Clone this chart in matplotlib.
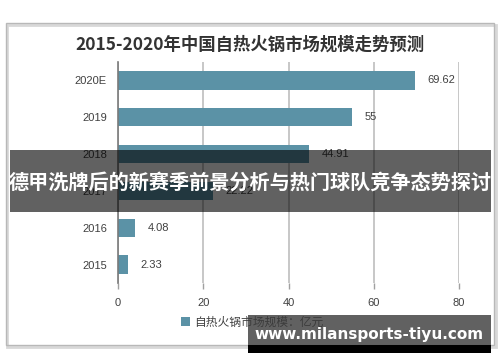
import matplotlib
matplotlib.use("Agg")
import matplotlib.pyplot as plt
from matplotlib.patches import Rectangle, Patch

plt.rcParams['font.family'] = ['Noto Sans CJK SC', 'DejaVu Sans']

categories = ["2015", "2016", "2017", "2018", "2019", "2020E"]
values = [2.33, 4.08, 22.22, 44.91, 55, 69.62]
xticks = [0, 20, 40, 60, 80]
title = "2015-2020年中国自热火锅市场规模走势预测"
legend_label = "自热火锅市场规模：亿元"
banner_text = "德甲洗牌后的新赛季前景分析与热门球队竞争态势探讨"
watermark = "www.milansports-tiyu.com"

W, H = 500, 362
fig = plt.figure(figsize=(W / 100, H / 100), dpi=100)

def fx(px):
    return px / W

def fy(py):
    return 1 - py / H

# outer frame with slight shadow
fig.patches.append(Rectangle((fx(7), fy(347)), fx(489), (344 - 23) / H + 0.004,
                             transform=fig.transFigure, fill=False,
                             edgecolor='#d8d8d8', linewidth=2.0, zorder=0))
fig.patches.append(Rectangle((fx(6), fy(345)), fx(488), (345 - 23) / H,
                             transform=fig.transFigure, fill=False,
                             edgecolor='#b8b8b8', linewidth=1.0, zorder=0))

ax = fig.add_axes([fx(118), fy(283), fx(459) - fx(118), (283 - 62) / H])
y = list(range(len(categories)))
ax.barh(y, values, height=0.5, color='#5B92A6', zorder=2)
for yi, v in zip(y, values):
    ax.annotate(f"{v:g}", (v, yi), xytext=(9, 0), textcoords='offset points',
                va='center', ha='left', fontsize=8, color='#404040',
                family=['Liberation Sans', 'DejaVu Sans'])
ax.set_xlim(0, 80)
ax.set_ylim(-0.5, 5.5)
ax.set_yticks(y)
ax.set_yticklabels(categories, fontsize=8, color='#404040',
                   family=['Liberation Sans', 'DejaVu Sans'])
ax.set_xticks(xticks)
ax.set_xticklabels([str(t) for t in xticks], fontsize=8, color='#404040',
                   family=['Liberation Sans', 'DejaVu Sans'])
ax.tick_params(axis='y', length=0, pad=8)
ax.tick_params(axis='x', length=4, width=1, color='#a0a0a0', pad=7)
ax.xaxis.grid(True, color='#bdbdbd', linewidth=1.2, zorder=0)
ax.set_axisbelow(True)
for s in ['top', 'right', 'bottom']:
    ax.spines[s].set_visible(False)
ax.spines['left'].set_color('#7a7a7a')
ax.spines['left'].set_linewidth(1.2)
ax.spines['left'].set_zorder(3)

fig.text(0.5, fy(45), title, ha='center', va='center', fontsize=12.5,
         fontweight='bold', color='#333333')

fig.legend(handles=[Patch(facecolor='#5B92A6', label=legend_label)],
           loc='center', bbox_to_anchor=(0.505, fy(322)), frameon=False,
           fontsize=8.5, handlelength=0.7, handleheight=0.7, handletextpad=0.4,
           labelcolor='#404040')

# overlay banner
fig.patches.append(Rectangle((fx(10), fy(212)), fx(481), (212 - 150) / H,
                             transform=fig.transFigure, facecolor='black',
                             alpha=0.62, edgecolor='none', zorder=10))
fig.text(fx(250), fy(182), banner_text, ha='center', va='center',
         fontsize=14.5, fontweight='bold', color='white', zorder=11)

# watermark
fig.patches.append(Rectangle((fx(248), fy(345)), fx(243), (345 - 315) / H,
                             transform=fig.transFigure, facecolor='#3a3a3a',
                             alpha=0.8, edgecolor='none', zorder=10))
fig.patches.append(Rectangle((fx(248), fy(353)), fx(243), (353 - 345) / H,
                             transform=fig.transFigure, facecolor='black',
                             edgecolor='none', zorder=10))
fig.text(fx(369), fy(334), watermark, ha='center', va='center',
         fontsize=11, fontweight='bold', color='white', zorder=11,
         family=['DejaVu Sans'])

fig.savefig('out.png', dpi=100)
